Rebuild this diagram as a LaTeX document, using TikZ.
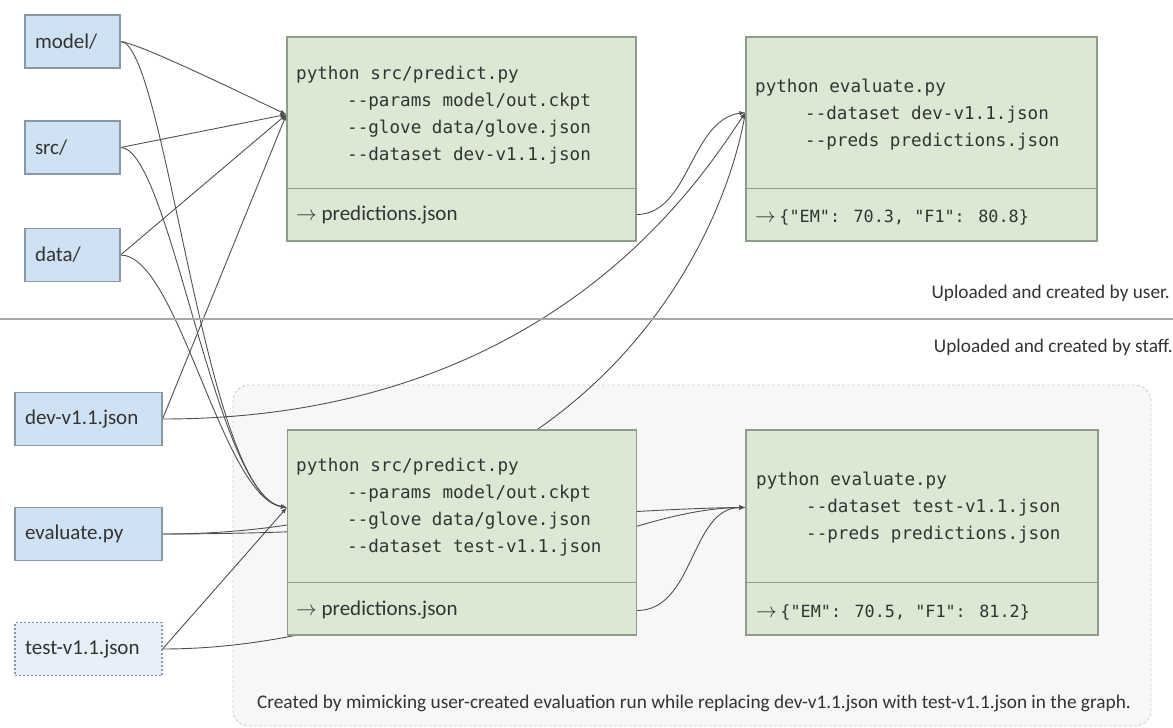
\documentclass[tikz,border=0pt]{standalone}
\usepackage{fontspec}
\setmainfont{Carlito}
\newfontfamily\codefont{DejaVu Sans Mono}
\usetikzlibrary{arrows.meta,calc}
\definecolor{filefill}{HTML}{CFE2F3}
\definecolor{fileline}{HTML}{8A97A6}
\definecolor{testfill}{HTML}{E7F0F9}
\definecolor{runfill}{HTML}{DBE9D4}
\definecolor{runline}{HTML}{8E9C88}
\definecolor{txt}{HTML}{333333}
\definecolor{edgecol}{HTML}{505050}
\definecolor{contfill}{HTML}{F7F7F7}
\definecolor{contline}{HTML}{CFCFCF}
\definecolor{rulecol}{HTML}{A8A8A8}
\pgfdeclarelayer{back}
\pgfdeclarelayer{edges}
\pgfsetlayers{back,edges,main}
\begin{document}
\begin{tikzpicture}[x=1pt,y=-1pt,
  filebox/.style={draw=fileline, fill=filefill, line width=1.1pt, minimum height=53pt,
    inner xsep=10pt, inner ysep=0pt, align=left, text=txt, font=\fontsize{21}{24}\selectfont},
  smallfile/.style={filebox, minimum width=95pt, text width=75pt},
  widefile/.style={filebox, minimum width=147pt, text width=127pt},
  testfile/.style={widefile, fill=testfill, dash pattern=on 2pt off 2pt},
  runbox/.style={draw=runline, fill=runfill, line width=1.1pt, minimum width=349pt, inner sep=0pt},
  cmdtext/.style={anchor=west, inner sep=0pt, align=left, text=txt, font=\codefont\fontsize{17.6}{27}\selectfont},
  outtext/.style={anchor=west, inner sep=0pt, text=txt, font=\fontsize{21}{24}\selectfont},
  note/.style={inner sep=0pt, text=txt, font=\fontsize{19.3}{22}\selectfont},
  divider/.style={draw=runline, line width=1.1pt},
  edge/.style={draw=edgecol, line width=0.9pt, -{Latex[length=6pt,width=4.5pt]}}
]
\useasboundingbox (0,0) rectangle (1173,728);

% container
\begin{pgfonlayer}{back}
  \node[draw=contline, fill=contfill, line width=0.9pt, dash pattern=on 3pt off 2pt,
        rounded corners=16pt, minimum width=918pt, minimum height=341pt, inner sep=0pt]
        (cont) at (692,555.5) {};
\end{pgfonlayer}

% separator line
\coordinate (sepL) at (0,319);
\coordinate (sepR) at (1173,319);
\draw[rulecol, line width=1.5pt] (sepL) -- (sepR);
\node[note, anchor=east] (usernote) at (1170,293) {Uploaded and created by user.};
\node[note, anchor=east] (staffnote) at (1173,347) {Uploaded and created by staff.};

% input files
\node[smallfile] (model) at (72.5,41.5) {model/};
\node[smallfile] (src) at (72.5,147.5) {src/};
\node[smallfile] (data) at (72.5,255) {data/};
\node[widefile] (dev) at (88.5,419) {dev-v1.1.json};
\node[widefile] (evalpy) at (88.5,534) {evaluate.py};
\node[testfile] (test) at (88.5,649) {test-v1.1.json};

% run boxes
\node[runbox, minimum height=204pt] (tp) at (461.5,139) {};
\node[runbox, minimum height=204pt, minimum width=351pt] (te) at (921.5,139) {};
\node[runbox, minimum height=205pt] (bp) at (462,532.5) {};
\node[runbox, minimum height=205pt, minimum width=352pt] (be) at (922,532.5) {};

\draw[divider] ($(tp.south west)+(0,-53)$) coordinate (tpdl) -- ($(tp.south east)+(0,-53)$) coordinate (tpdr);
\draw[divider] ($(te.south west)+(0,-53)$) coordinate (tedl) -- ($(te.south east)+(0,-53)$) coordinate (tedr);
\draw[divider] ($(bp.south west)+(0,-53)$) coordinate (bpdl) -- ($(bp.south east)+(0,-53)$) coordinate (bpdr);
\draw[divider] ($(be.south west)+(0,-53)$) coordinate (bedl) -- ($(be.south east)+(0,-53)$) coordinate (bedr);

\node[cmdtext] (tpcmd) at (296,115.5) {python src/predict.py\\
\hspace*{51pt}--params model/out.ckpt\\
\hspace*{51pt}--glove data/glove.json\\
\hspace*{51pt}--dataset dev-v1.1.json};
\node[outtext] (tpout) at (296,215) {$\rightarrow$ predictions.json};

\node[cmdtext] (tecmd) at (755,114.5) {python evaluate.py\\
\hspace*{50pt}--dataset dev-v1.1.json\\
\hspace*{50pt}--preds predictions.json};
\node[outtext] (teout) at (755,217) {$\rightarrow$\,{\codefont\fontsize{16.8}{20}\selectfont\{"EM": 70.3, "F1": 80.8\}}};

\node[cmdtext] (bpcmd) at (296,507.5) {python src/predict.py\\
\hspace*{51pt}--params model/out.ckpt\\
\hspace*{51pt}--glove data/glove.json\\
\hspace*{51pt}--dataset test-v1.1.json};
\node[outtext] (bpout) at (296,610) {$\rightarrow$ predictions.json};

\node[cmdtext] (becmd) at (756,508) {python evaluate.py\\
\hspace*{50pt}--dataset test-v1.1.json\\
\hspace*{50pt}--preds predictions.json};
\node[outtext] (beout) at (756,612) {$\rightarrow$\,{\codefont\fontsize{16.8}{20}\selectfont\{"EM": 70.5, "F1": 81.2\}}};

\node[note] (caption) at (694,703) {Created by mimicking user-created evaluation run while replacing dev-v1.1.json with test-v1.1.json in the graph.};

% ports
\coordinate (tpin) at ($(tp.north west)+(0,78)$);
\coordinate (tein) at ($(te.north west)+(0,76)$);
\coordinate (bpin) at ($(bp.north west)+(0,78)$);
\coordinate (bein) at ($(be.north west)+(0,78)$);
\coordinate (tpo) at ($(tp.south east)+(0,-27)$);
\coordinate (bpo) at ($(bp.south east)+(0,-25)$);

% connectors
\begin{pgfonlayer}{edges}
  \draw[edge] (model.east) .. controls +(20,2) and +(-30,-14) .. (tpin);
  \draw[edge] (src.east) -- (tpin);
  \draw[edge] (data.east) -- (tpin);
  \draw[edge] (dev.east) -- (tpin);

  \draw[edge] (model.east) .. controls (165,42) and (205,495) .. (bpin);
  \draw[edge] (src.east) .. controls (170,148) and (215,495) .. (bpin);
  \draw[edge] (data.east) .. controls (178,255) and (222,497) .. (bpin);
  \draw[edge] (test.east) -- (bpin);

  \draw[edge] (tpo) .. controls (690,214) and (690,120) .. (tein);
  \draw[edge] (dev.east) .. controls (550,419) and (700,180) .. (tein);
  \draw[edge] (evalpy.east) .. controls (585,534) and (720,250) .. (tein);

  \draw[edge] (bpo) .. controls (695,610) and (690,508) .. (bein);
  \draw[edge] (evalpy.east) .. controls (400,534) and (600,509) .. (bein);
  \draw[edge] (test.east) .. controls (400,649) and (600,509) .. (bein);
\end{pgfonlayer}
\end{tikzpicture}
\end{document}
